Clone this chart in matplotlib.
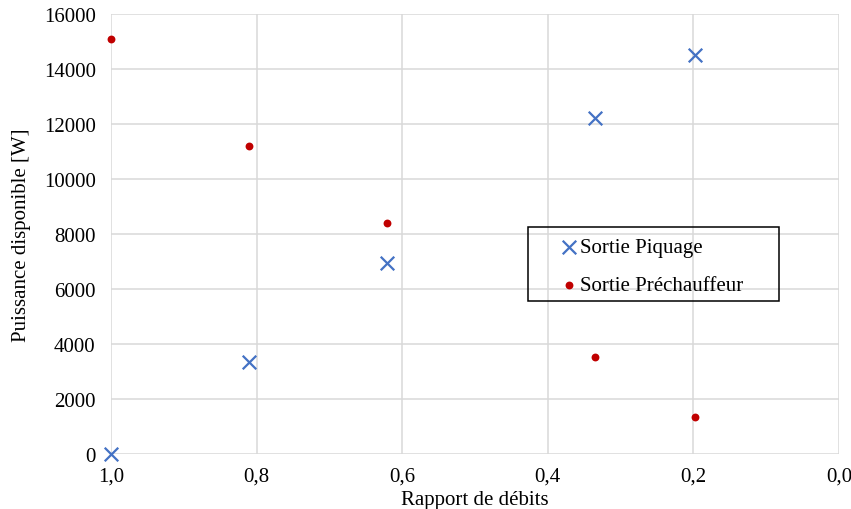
import matplotlib.pyplot as plt
from matplotlib.patches import Rectangle
from matplotlib.ticker import FuncFormatter

# Données
rapport = [1.0, 0.811, 0.621, 0.335, 0.198]
piquage = [0, 3367, 6945, 12229, 14520]
prechauffeur = [15091, 11200, 8411, 3538, 1345]

plt.rcParams['font.family'] = ['Liberation Serif', 'DejaVu Serif']

fig = plt.figure(figsize=(8.51, 5.10), dpi=100)
ax = fig.add_axes([111 / 851, 1 - 455.3 / 510, (839 - 111) / 851, (455.3 - 15.3) / 510])

ax.scatter(rapport, piquage, marker="x", s=95, color="#4472C4", linewidths=1.6,
           label="Sortie Piquage", zorder=3, clip_on=False)
ax.scatter(rapport, prechauffeur, marker="o", s=32, color="#C00000", linewidths=0,
           label="Sortie Préchauffeur", zorder=3, clip_on=False)

ax.set_xlim(1.0, 0.0)
ax.set_ylim(0, 16000)
ax.set_xticks([1.0, 0.8, 0.6, 0.4, 0.2, 0.0])
ax.set_yticks(range(0, 16001, 2000))
ax.xaxis.set_major_formatter(FuncFormatter(lambda v, p: f"{v:.1f}".replace(".", ",")))
ax.grid(True, color="#d9d9d9", linewidth=1.1)
ax.set_axisbelow(True)
for s in ax.spines.values():
    s.set_visible(False)
ax.tick_params(length=0, labelsize=15)
ax.tick_params(axis="y", pad=11)
ax.tick_params(axis="x", pad=9)

ax.set_xlabel("Rapport de débits", fontsize=15, labelpad=3)
ax.set_ylabel("Puissance disponible [W]", fontsize=15, labelpad=9)

leg = fig.legend(loc="upper left", bbox_to_anchor=(560 / 851, 1 - 238.5 / 510),
                 frameon=False, fontsize=15, borderpad=0, borderaxespad=0,
                 handlelength=0.9, handletextpad=0.05, labelspacing=0.9,
                 scatterpoints=1)
fig.patches.append(Rectangle((528.3 / 851, 1 - 302.3 / 510), (779.3 - 528.3) / 851,
                             74 / 510, transform=fig.transFigure, fill=False,
                             edgecolor="black", linewidth=1.1))

fig.savefig("out.png", dpi=100)
